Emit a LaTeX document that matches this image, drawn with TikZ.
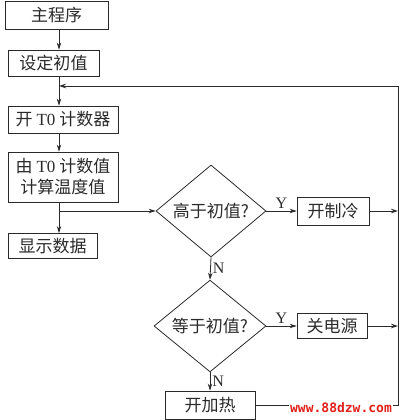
\documentclass[tikz,border=0pt]{standalone}
\usepackage{fontspec}
\setmainfont{Noto Sans CJK SC}
\newfontfamily\lat{Liberation Serif}
\newfontfamily\wm{DejaVu Sans Mono}
\usetikzlibrary{shapes.geometric,arrows.meta}
\definecolor{ink}{HTML}{2A2A2A}
\definecolor{wmred}{HTML}{E0201A}
\begin{document}
\begin{tikzpicture}[x=1pt,y=-1pt,
  line width=0.8pt, draw=ink, >={Stealth[length=7pt,width=4.5pt]},
  box/.style={draw=ink, rectangle, inner sep=0pt, text=ink, font=\fontsize{17}{21}\selectfont, align=center},
  dec/.style={draw=ink, diamond, inner sep=0pt, text=ink, font=\fontsize{17}{21}\selectfont},
  lab/.style={text=ink, font=\lat\fontsize{16}{18}\selectfont, inner sep=2pt}]
\useasboundingbox (0,0) rectangle (402,420);
\node[box, minimum width=103pt, minimum height=28pt] (main) at (56.5,15) {主程序};
\node[box, minimum width=91pt, minimum height=26pt] (set) at (53.5,63) {设定初值};
\node[box, minimum width=110pt, minimum height=27pt] (t0) at (63,119.5) {开 {\lat T0} 计数器};
\node[box, minimum width=110pt, minimum height=50pt] (calc) at (63,177) {由 {\lat T0} 计数值\\计算温度值};
\node[box, minimum width=89pt, minimum height=25pt] (disp) at (52.5,246) {显示数据};
\node[dec, minimum width=110pt, minimum height=92pt] (d1) at (211,211) {高于初值?};
\node[box, minimum width=72pt, minimum height=28pt] (cool) at (333,211) {开制冷};
\node[dec, minimum width=112pt, minimum height=86pt] (d2) at (210,326) {等于初值?};
\node[box, minimum width=70pt, minimum height=25pt] (power) at (332,326) {关电源};
\node[box, minimum width=90pt, minimum height=28pt] (heat) at (210,405) {开加热};
\coordinate (sp) at (59,0);
\coordinate (br) at (59,211);
\coordinate (rt) at (398,86);
\coordinate (rb) at (398,405);
\coordinate (fb) at (59,86);
\draw[->] (main.south -| sp) -- (set.north -| sp);
\draw[->] (set.south -| sp) -- (t0.north -| sp);
\draw[->] (t0.south -| sp) -- (calc.north -| sp);
\draw[->] (calc.south -| sp) -- (disp.north -| sp);
\draw[->] (br) -- (d1.west);
\draw[->] (d1.east) -- node[lab, above]{Y} (cool.west);
\draw[->] (d1.south) -- node[lab, right]{N} (d2.north);
\draw[->] (d2.east) -- node[lab, above]{Y} (power.west);
\draw[->] (d2.south) -- node[lab, right]{N} (heat.north);
\draw (heat.east) -- (rb) -- (rt);
\draw[->] (rt) -- (fb);
\draw[->] (cool.east) -- (cool.east -| rt);
\draw[->] (power.east) -- (power.east -| rt);
\node[fill=white, text=wmred, inner sep=1pt, font=\wm\bfseries\fontsize{13}{14}\selectfont] (wmk) at (341,408) {www.88dzw.com};
\end{tikzpicture}
\end{document}
